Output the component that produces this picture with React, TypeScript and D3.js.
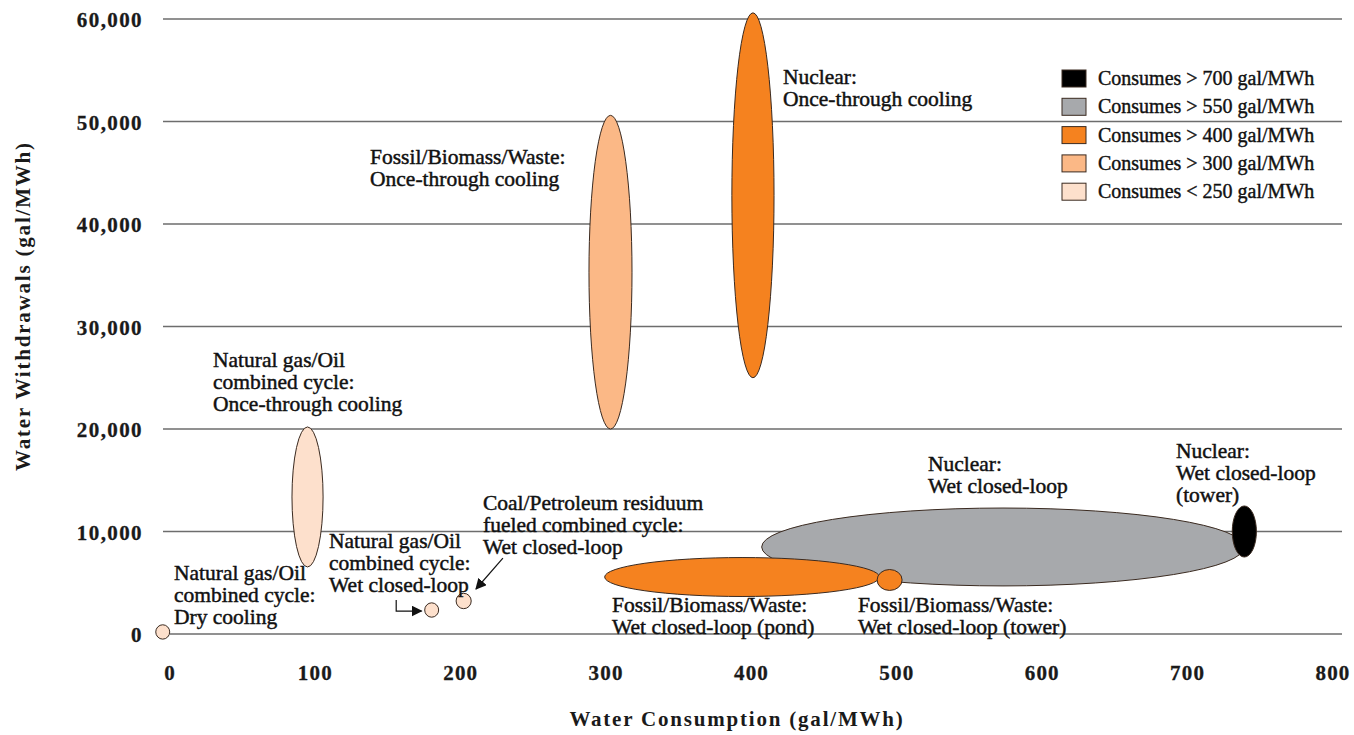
import { useEffect } from "react";
import * as d3 from "d3";

// Legend classes (consumption bands)
const bandLabels = [
  "Consumes > 700 gal/MWh",
  "Consumes > 550 gal/MWh",
  "Consumes > 400 gal/MWh",
  "Consumes > 300 gal/MWh",
  "Consumes < 250 gal/MWh",
];
const bandColors = ["#000000", "#a7a9ac", "#f5821f", "#fbb886", "#fde0cc"];

// Technologies: centre and half-extent in data units
const techNames = [
  "Nuclear wet closed-loop",
  "Natural gas once-through",
  "Fossil once-through",
  "Nuclear once-through",
  "Fossil pond",
  "Fossil tower",
  "Nuclear tower",
  "Natural gas dry",
  "Natural gas wet",
  "Coal/petroleum wet",
];
const techBand = [1, 4, 3, 2, 2, 2, 0, 4, 4, 4];
const consumptionMid = [573, 94.6, 303, 401, 393.5, 495, 739, -5, 180, 202];
const consumptionHalf = [166, 10.7, 14.8, 14.5, 94.5, 8.6, 8.3, 4.8, 4.8, 5.2];
const withdrawalMid = [8490, 13370, 35300, 42800, 5560, 5270, 10000, 200, 2340, 3220];
const withdrawalHalf = [3800, 6830, 15300, 17800, 1900, 1020, 2490, 700, 700, 750];

// Axis ticks
const xTicks = [0, 100, 200, 300, 400, 500, 600, 700, 800];
const yTicks = [0, 10000, 20000, 30000, 40000, 50000, 60000];

// Annotations: anchor (consumption, withdrawal) and text lines
const noteX = [421.6, 137.6, 29.6, 215.3, 109.4, 2.75, 304, 473.2, 521.4, 692];
const noteY = [53660, 45850, 26050, 12100, 8390, 5270, 2150, 2150, 15900, 17170];
const noteLines = [
  ["Nuclear:", "Once-through cooling"],
  ["Fossil/Biomass/Waste:", "Once-through cooling"],
  ["Natural gas/Oil", "combined cycle:", "Once-through cooling"],
  ["Coal/Petroleum residuum", "fueled combined cycle:", "Wet closed-loop"],
  ["Natural gas/Oil", "combined cycle:", "Wet closed-loop"],
  ["Natural gas/Oil", "combined cycle:", "Dry cooling"],
  ["Fossil/Biomass/Waste:", "Wet closed-loop (pond)"],
  ["Fossil/Biomass/Waste:", "Wet closed-loop (tower)"],
  ["Nuclear:", "Wet closed-loop"],
  ["Nuclear:", "Wet closed-loop", "(tower)"],
];

// Pointer arrows as [consumption, withdrawal] vertices
const arrows: [number, number][][] = [
  [
    [155.6, 3320],
    [155.6, 2240],
    [173, 2240],
  ],
  [
    [229, 7410],
    [210.5, 4390],
  ],
];

const W = 1354;
const H = 735;
const serif = "'Liberation Serif', 'Times New Roman', serif";

export default function App() {
  useEffect(() => {
    document.body.style.margin = "0";
  }, []);

  const x = d3.scaleLinear().domain([0, 800]).range([170, 1333]);
  const y = d3.scaleLinear().domain([0, 60000]).range([634, 19]);
  const line = d3
    .line<[number, number]>()
    .x((d) => x(d[0]))
    .y((d) => y(d[1]));

  const pxPerX = x(1) - x(0);
  const pxPerY = y(0) - y(1);

  return (
    <svg width={W} height={H} style={{ display: "block", background: "#fff" }} fontFamily={serif}>
      <defs>
        <marker id="head" viewBox="0 0 10 10" refX="9" refY="5" markerWidth="11" markerHeight="11" markerUnits="userSpaceOnUse" orient="auto">
          <path d="M0,0 L10,5 L0,10 Z" fill="#111" />
        </marker>
      </defs>

      {/* grid */}
      {yTicks.map((t) => (
        <line key={t} x1={t === 0 ? 170 : 163} x2={1342} y1={y(t)} y2={y(t)} stroke="#6d6d6d" strokeWidth={1.5} />
      ))}

      {/* y tick labels */}
      {yTicks.map((t) => (
        <text key={t} x={143} y={y(t) + 8} textAnchor="end" fontSize={21} fontWeight="bold" letterSpacing={1.4} fill="#1a1a1a" stroke="#1a1a1a" strokeWidth={0.3}>
          {d3.format(",")(t)}
        </text>
      ))}

      {/* x tick labels */}
      {xTicks.map((t) => (
        <text key={t} x={x(t)} y={680} textAnchor="middle" fontSize={21} fontWeight="bold" letterSpacing={1.2} fill="#1a1a1a" stroke="#1a1a1a" strokeWidth={0.3}>
          {t}
        </text>
      ))}

      {/* axis titles */}
      <text x={737} y={726} textAnchor="middle" fontSize={21} fontWeight="bold" letterSpacing={1.8} fill="#1a1a1a">
        Water Consumption (gal/MWh)
      </text>
      <text transform={`translate(30,306) rotate(-90)`} textAnchor="middle" fontSize={21} fontWeight="bold" letterSpacing={1.8} fill="#1a1a1a">
        Water Withdrawals (gal/MWh)
      </text>

      {/* technology ellipses */}
      {techNames.map((n, i) => (
        <ellipse
          key={n}
          cx={x(consumptionMid[i])}
          cy={y(withdrawalMid[i])}
          rx={consumptionHalf[i] * pxPerX}
          ry={withdrawalHalf[i] * pxPerY}
          fill={bandColors[techBand[i]]}
          stroke="#3a2a20"
          strokeWidth={1}
        />
      ))}

      {/* arrows */}
      {arrows.map((a, i) => (
        <path key={i} d={line(a) ?? ""} fill="none" stroke="#111" strokeWidth={1.2} markerEnd="url(#head)" />
      ))}

      {/* annotations */}
      {noteLines.map((lines, i) => (
        <text key={i} x={x(noteX[i])} y={y(noteY[i])} fontSize={21.5} fill="#111" stroke="#111" strokeWidth={0.45}>
          {lines.map((l, j) => (
            <tspan key={j} x={x(noteX[i])} dy={j === 0 ? 0 : 22}>
              {l}
            </tspan>
          ))}
        </text>
      ))}

      {/* legend */}
      {bandLabels.map((l, i) => (
        <g key={l} transform={`translate(1062,${70 + i * 28.3})`}>
          <rect width={24} height={17} fill={bandColors[i]} stroke="#3a2a20" strokeWidth={1} />
          <text x={36} y={15} fontSize={20} fill="#111" stroke="#111" strokeWidth={0.4}>
            {l}
          </text>
        </g>
      ))}
    </svg>
  );
}
